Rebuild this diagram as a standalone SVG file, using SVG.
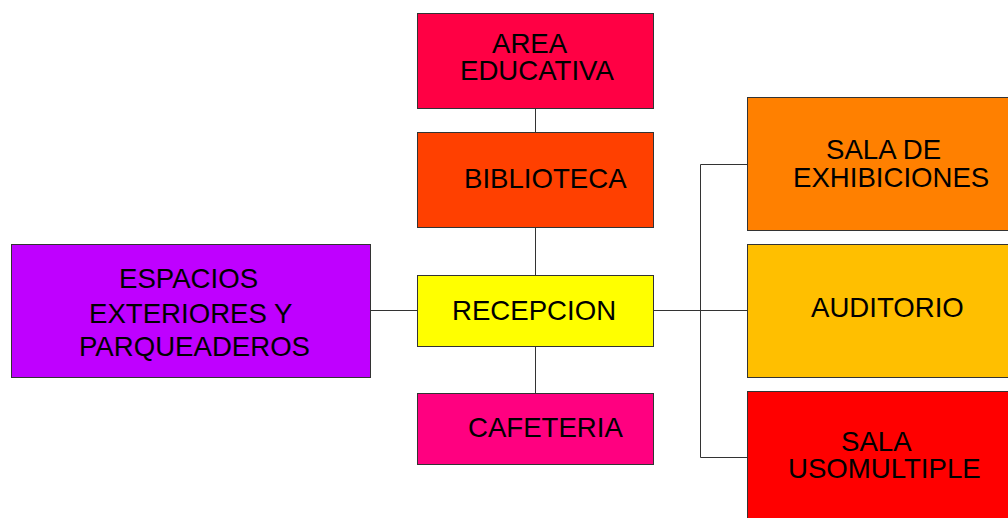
<svg xmlns="http://www.w3.org/2000/svg" width="1008" height="518" viewBox="0 0 1008 518">
<style>
.box{stroke:#333;stroke-width:1}
.t{font-family:"Liberation Sans",Arial,sans-serif;font-size:27.6px;fill:#000}
.c{stroke:#333;stroke-width:1;fill:none}
</style>
<rect width="1008" height="518" fill="#fff"/>
<g id="connectors">
<line class="c" x1="535.5" y1="108" x2="535.5" y2="132"/>
<line class="c" x1="535.5" y1="227" x2="535.5" y2="275"/>
<line class="c" x1="535.5" y1="346" x2="535.5" y2="393"/>
<line class="c" x1="370" y1="310.5" x2="417" y2="310.5"/>
<line class="c" x1="653" y1="310.5" x2="747" y2="310.5"/>
<polyline class="c" points="747,164.5 700.5,164.5 700.5,457.5 747,457.5"/>
</g>
<g id="area-educativa">
<rect class="box" x="417.5" y="13.5" width="236" height="95" fill="#FF0044"/>
<text class="t" x="492" y="53">AREA</text>
<text class="t" x="460" y="80">EDUCATIVA</text>
</g>
<g id="biblioteca">
<rect class="box" x="417.5" y="132.5" width="236" height="95" fill="#FF4000"/>
<text class="t" x="464" y="188">BIBLIOTECA</text>
</g>
<g id="recepcion">
<rect class="box" x="417.5" y="275.5" width="236" height="71" fill="#FFFF00"/>
<text class="t" x="452" y="320">RECEPCION</text>
</g>
<g id="cafeteria">
<rect class="box" x="417.5" y="393.5" width="236" height="71" fill="#FF0080"/>
<text class="t" x="468" y="437">CAFETERIA</text>
</g>
<g id="espacios-exteriores">
<rect class="box" x="11.5" y="244.5" width="359" height="133" fill="#BF00FF"/>
<text class="t" x="119" y="288">ESPACIOS</text>
<text class="t" x="89" y="323">EXTERIORES Y</text>
<text class="t" x="79" y="356">PARQUEADEROS</text>
</g>
<g id="sala-exhibiciones">
<rect class="box" x="747.5" y="97.5" width="270" height="133" fill="#FF8000"/>
<text class="t" x="826" y="159">SALA DE</text>
<text class="t" x="793" y="187">EXHIBICIONES</text>
</g>
<g id="auditorio">
<rect class="box" x="747.5" y="244.5" width="270" height="133" fill="#FFBF00"/>
<text class="t" x="811" y="317">AUDITORIO</text>
</g>
<g id="sala-usomultiple">
<rect class="box" x="747.5" y="391.5" width="270" height="140" fill="#FF0000"/>
<text class="t" x="841" y="451">SALA</text>
<text class="t" x="788" y="478">USOMULTIPLE</text>
</g>
</svg>
